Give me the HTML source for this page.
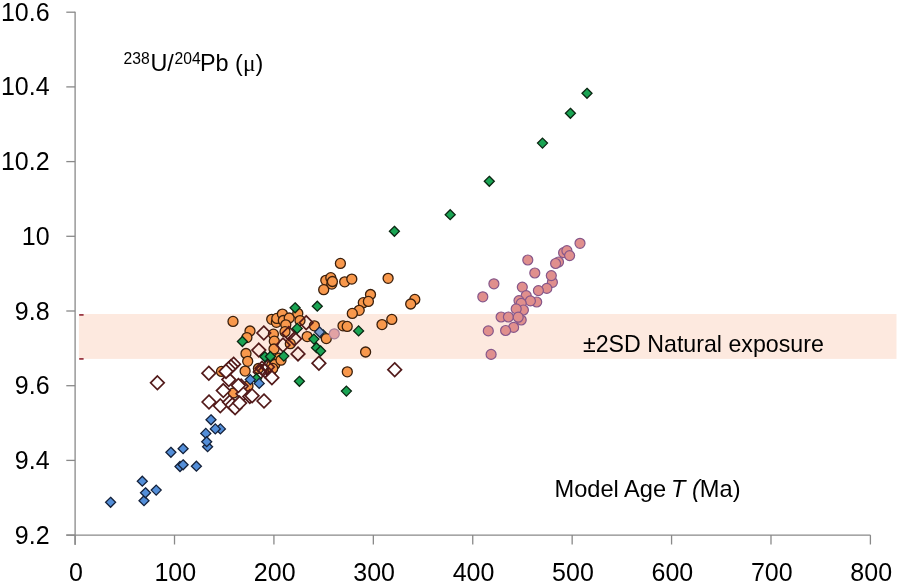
<!DOCTYPE html>
<html><head><meta charset="utf-8"><style>
html,body{margin:0;padding:0;background:#fff;}
body{width:900px;height:584px;overflow:hidden;}
svg{display:block;will-change:transform;}
.t{font-family:"Liberation Sans",sans-serif;font-size:25px;fill:#000;}
.a{font-family:"Liberation Sans",sans-serif;fill:#000;}
</style></head><body>
<svg width="900" height="584" viewBox="0 0 900 584">
<rect x="78.9" y="314" width="817.6" height="44.9" fill="#fde9df"/>
<rect x="79.2" y="314" width="4.4" height="1.8" fill="#9b3a45"/>
<rect x="79.2" y="358" width="4.4" height="1.8" fill="#9b3a45"/>
<line x1="75.1" y1="11.7" x2="75.1" y2="545" stroke="#898989" stroke-width="1.3"/>
<line x1="66.3" y1="535.1" x2="870.4" y2="535.1" stroke="#898989" stroke-width="1.3"/>
<line x1="66.3" y1="535.10" x2="75.1" y2="535.10" stroke="#898989" stroke-width="1.3"/>
<line x1="66.3" y1="460.40" x2="75.1" y2="460.40" stroke="#898989" stroke-width="1.3"/>
<line x1="66.3" y1="385.70" x2="75.1" y2="385.70" stroke="#898989" stroke-width="1.3"/>
<line x1="66.3" y1="311.00" x2="75.1" y2="311.00" stroke="#898989" stroke-width="1.3"/>
<line x1="66.3" y1="236.30" x2="75.1" y2="236.30" stroke="#898989" stroke-width="1.3"/>
<line x1="66.3" y1="161.60" x2="75.1" y2="161.60" stroke="#898989" stroke-width="1.3"/>
<line x1="66.3" y1="86.90" x2="75.1" y2="86.90" stroke="#898989" stroke-width="1.3"/>
<line x1="66.3" y1="12.20" x2="75.1" y2="12.20" stroke="#898989" stroke-width="1.3"/>
<line x1="75.10" y1="535.1" x2="75.10" y2="544.5" stroke="#898989" stroke-width="1.3"/>
<line x1="174.51" y1="535.1" x2="174.51" y2="544.5" stroke="#898989" stroke-width="1.3"/>
<line x1="273.92" y1="535.1" x2="273.92" y2="544.5" stroke="#898989" stroke-width="1.3"/>
<line x1="373.34" y1="535.1" x2="373.34" y2="544.5" stroke="#898989" stroke-width="1.3"/>
<line x1="472.75" y1="535.1" x2="472.75" y2="544.5" stroke="#898989" stroke-width="1.3"/>
<line x1="572.16" y1="535.1" x2="572.16" y2="544.5" stroke="#898989" stroke-width="1.3"/>
<line x1="671.57" y1="535.1" x2="671.57" y2="544.5" stroke="#898989" stroke-width="1.3"/>
<line x1="770.99" y1="535.1" x2="770.99" y2="544.5" stroke="#898989" stroke-width="1.3"/>
<line x1="870.40" y1="535.1" x2="870.40" y2="544.5" stroke="#898989" stroke-width="1.3"/>
<text x="49.6" y="543.60" text-anchor="end" class="t">9.2</text>
<text x="49.6" y="468.90" text-anchor="end" class="t">9.4</text>
<text x="49.6" y="394.20" text-anchor="end" class="t">9.6</text>
<text x="49.6" y="319.50" text-anchor="end" class="t">9.8</text>
<text x="49.6" y="244.80" text-anchor="end" class="t">10</text>
<text x="49.6" y="170.10" text-anchor="end" class="t">10.2</text>
<text x="49.6" y="95.40" text-anchor="end" class="t">10.4</text>
<text x="49.6" y="20.70" text-anchor="end" class="t">10.6</text>
<text x="75.90" y="580.6" text-anchor="middle" class="t">0</text>
<text x="175.31" y="580.6" text-anchor="middle" class="t">100</text>
<text x="274.72" y="580.6" text-anchor="middle" class="t">200</text>
<text x="374.14" y="580.6" text-anchor="middle" class="t">300</text>
<text x="473.55" y="580.6" text-anchor="middle" class="t">400</text>
<text x="572.96" y="580.6" text-anchor="middle" class="t">500</text>
<text x="672.37" y="580.6" text-anchor="middle" class="t">600</text>
<text x="771.79" y="580.6" text-anchor="middle" class="t">700</text>
<text x="871.20" y="580.6" text-anchor="middle" class="t">800</text>
<circle cx="340.4" cy="263.4" r="5.0" fill="#f8984c" stroke="#3a1f0c" stroke-width="1.3"/>
<circle cx="325.8" cy="280.3" r="5.0" fill="#f8984c" stroke="#3a1f0c" stroke-width="1.3"/>
<circle cx="330.8" cy="277.7" r="5.0" fill="#f8984c" stroke="#3a1f0c" stroke-width="1.3"/>
<circle cx="331.8" cy="284.1" r="5.0" fill="#f8984c" stroke="#3a1f0c" stroke-width="1.3"/>
<circle cx="332.4" cy="281.5" r="5.0" fill="#f8984c" stroke="#3a1f0c" stroke-width="1.3"/>
<circle cx="323.7" cy="289.7" r="5.0" fill="#f8984c" stroke="#3a1f0c" stroke-width="1.3"/>
<circle cx="344.7" cy="281.8" r="5.0" fill="#f8984c" stroke="#3a1f0c" stroke-width="1.3"/>
<circle cx="351.8" cy="279.1" r="5.0" fill="#f8984c" stroke="#3a1f0c" stroke-width="1.3"/>
<circle cx="388.1" cy="278.3" r="5.0" fill="#f8984c" stroke="#3a1f0c" stroke-width="1.3"/>
<circle cx="370.5" cy="294.5" r="5.0" fill="#f8984c" stroke="#3a1f0c" stroke-width="1.3"/>
<circle cx="363.3" cy="302.7" r="5.0" fill="#f8984c" stroke="#3a1f0c" stroke-width="1.3"/>
<circle cx="368.4" cy="301.4" r="5.0" fill="#f8984c" stroke="#3a1f0c" stroke-width="1.3"/>
<circle cx="359.2" cy="310.3" r="5.0" fill="#f8984c" stroke="#3a1f0c" stroke-width="1.3"/>
<circle cx="352.3" cy="313.4" r="5.0" fill="#f8984c" stroke="#3a1f0c" stroke-width="1.3"/>
<circle cx="414.8" cy="299.4" r="5.0" fill="#f8984c" stroke="#3a1f0c" stroke-width="1.3"/>
<circle cx="410.7" cy="304.0" r="5.0" fill="#f8984c" stroke="#3a1f0c" stroke-width="1.3"/>
<circle cx="382.0" cy="324.6" r="5.0" fill="#f8984c" stroke="#3a1f0c" stroke-width="1.3"/>
<circle cx="391.8" cy="319.4" r="5.0" fill="#f8984c" stroke="#3a1f0c" stroke-width="1.3"/>
<circle cx="343.0" cy="325.8" r="5.0" fill="#f8984c" stroke="#3a1f0c" stroke-width="1.3"/>
<circle cx="347.2" cy="326.4" r="5.0" fill="#f8984c" stroke="#3a1f0c" stroke-width="1.3"/>
<circle cx="365.6" cy="352.0" r="5.0" fill="#f8984c" stroke="#3a1f0c" stroke-width="1.3"/>
<circle cx="347.3" cy="371.8" r="5.0" fill="#f8984c" stroke="#3a1f0c" stroke-width="1.3"/>
<circle cx="233.0" cy="321.4" r="5.0" fill="#f8984c" stroke="#3a1f0c" stroke-width="1.3"/>
<circle cx="250.0" cy="331.0" r="5.0" fill="#f8984c" stroke="#3a1f0c" stroke-width="1.3"/>
<circle cx="246.9" cy="337.6" r="5.0" fill="#f8984c" stroke="#3a1f0c" stroke-width="1.3"/>
<circle cx="271.7" cy="319.3" r="5.0" fill="#f8984c" stroke="#3a1f0c" stroke-width="1.3"/>
<circle cx="276.4" cy="322.3" r="5.0" fill="#f8984c" stroke="#3a1f0c" stroke-width="1.3"/>
<circle cx="276.8" cy="318.4" r="5.0" fill="#f8984c" stroke="#3a1f0c" stroke-width="1.3"/>
<circle cx="282.4" cy="314.1" r="5.0" fill="#f8984c" stroke="#3a1f0c" stroke-width="1.3"/>
<circle cx="283.3" cy="320.5" r="5.0" fill="#f8984c" stroke="#3a1f0c" stroke-width="1.3"/>
<circle cx="289.2" cy="318.0" r="5.0" fill="#f8984c" stroke="#3a1f0c" stroke-width="1.3"/>
<circle cx="297.8" cy="313.3" r="5.0" fill="#f8984c" stroke="#3a1f0c" stroke-width="1.3"/>
<circle cx="300.0" cy="320.6" r="5.0" fill="#f8984c" stroke="#3a1f0c" stroke-width="1.3"/>
<circle cx="285.8" cy="324.8" r="5.0" fill="#f8984c" stroke="#3a1f0c" stroke-width="1.3"/>
<circle cx="285.0" cy="331.7" r="5.0" fill="#f8984c" stroke="#3a1f0c" stroke-width="1.3"/>
<circle cx="273.4" cy="334.2" r="5.0" fill="#f8984c" stroke="#3a1f0c" stroke-width="1.3"/>
<circle cx="274.3" cy="341.2" r="5.0" fill="#f8984c" stroke="#3a1f0c" stroke-width="1.3"/>
<circle cx="274.0" cy="349.0" r="5.0" fill="#f8984c" stroke="#3a1f0c" stroke-width="1.3"/>
<circle cx="290.3" cy="343.7" r="5.0" fill="#f8984c" stroke="#3a1f0c" stroke-width="1.3"/>
<circle cx="314.4" cy="325.8" r="5.0" fill="#f8984c" stroke="#3a1f0c" stroke-width="1.3"/>
<circle cx="307.2" cy="336.6" r="5.0" fill="#f8984c" stroke="#3a1f0c" stroke-width="1.3"/>
<circle cx="246.0" cy="353.5" r="5.0" fill="#f8984c" stroke="#3a1f0c" stroke-width="1.3"/>
<circle cx="247.7" cy="361.3" r="5.0" fill="#f8984c" stroke="#3a1f0c" stroke-width="1.3"/>
<circle cx="245.1" cy="371.1" r="5.0" fill="#f8984c" stroke="#3a1f0c" stroke-width="1.3"/>
<circle cx="258.4" cy="368.5" r="5.0" fill="#f8984c" stroke="#3a1f0c" stroke-width="1.3"/>
<circle cx="271.7" cy="365.1" r="5.0" fill="#f8984c" stroke="#3a1f0c" stroke-width="1.3"/>
<circle cx="279.1" cy="358.1" r="5.0" fill="#f8984c" stroke="#3a1f0c" stroke-width="1.3"/>
<circle cx="274.8" cy="364.5" r="5.0" fill="#f8984c" stroke="#3a1f0c" stroke-width="1.3"/>
<circle cx="270.6" cy="371.8" r="5.0" fill="#f8984c" stroke="#3a1f0c" stroke-width="1.3"/>
<circle cx="272.7" cy="368.4" r="5.0" fill="#f8984c" stroke="#3a1f0c" stroke-width="1.3"/>
<circle cx="221.5" cy="371.4" r="5.0" fill="#f8984c" stroke="#3a1f0c" stroke-width="1.3"/>
<circle cx="233.5" cy="393.0" r="5.0" fill="#f8984c" stroke="#3a1f0c" stroke-width="1.3"/>
<circle cx="248.0" cy="386.1" r="5.0" fill="#f8984c" stroke="#3a1f0c" stroke-width="1.3"/>
<circle cx="281.0" cy="360.2" r="5.0" fill="#f8984c" stroke="#3a1f0c" stroke-width="1.3"/>
<path d="M157.4 376.0L164.2 382.8L157.4 389.6L150.6 382.8Z" fill="none" stroke="#521a1a" stroke-width="1.7"/>
<path d="M208.8 366.4L215.6 373.2L208.8 380.0L202.0 373.2Z" fill="#fff" stroke="#521a1a" stroke-width="1.7"/>
<path d="M209.0 395.2L215.8 402.0L209.0 408.8L202.2 402.0Z" fill="#fff" stroke="#521a1a" stroke-width="1.7"/>
<path d="M223.3 383.8L230.1 390.6L223.3 397.4L216.5 390.6Z" fill="#fff" stroke="#521a1a" stroke-width="1.7"/>
<path d="M228.8 372.8L235.6 379.6L228.8 386.4L222.0 379.6Z" fill="#fff" stroke="#521a1a" stroke-width="1.7"/>
<path d="M220.3 399.0L227.1 405.8L220.3 412.6L213.5 405.8Z" fill="#fff" stroke="#521a1a" stroke-width="1.7"/>
<path d="M233.6 357.4L240.4 364.2L233.6 371.0L226.8 364.2Z" fill="#fff" stroke="#521a1a" stroke-width="1.7"/>
<path d="M231.0 359.8L237.8 366.6L231.0 373.4L224.2 366.6Z" fill="#fff" stroke="#521a1a" stroke-width="1.7"/>
<path d="M228.5 362.2L235.3 369.0L228.5 375.8L221.7 369.0Z" fill="#fff" stroke="#521a1a" stroke-width="1.7"/>
<path d="M226.0 364.6L232.8 371.4L226.0 378.2L219.2 371.4Z" fill="#fff" stroke="#521a1a" stroke-width="1.7"/>
<path d="M229.6 395.5L236.4 402.3L229.6 409.1L222.8 402.3Z" fill="#fff" stroke="#521a1a" stroke-width="1.7"/>
<path d="M232.3 398.2L239.1 405.0L232.3 411.8L225.5 405.0Z" fill="#fff" stroke="#521a1a" stroke-width="1.7"/>
<path d="M235.1 400.9L241.9 407.7L235.1 414.5L228.3 407.7Z" fill="#fff" stroke="#521a1a" stroke-width="1.7"/>
<path d="M241.2 379.3L248.0 386.1L241.2 392.9L234.4 386.1Z" fill="#fff" stroke="#521a1a" stroke-width="1.7"/>
<path d="M243.0 387.0L249.8 393.8L243.0 400.6L236.2 393.8Z" fill="#fff" stroke="#521a1a" stroke-width="1.7"/>
<path d="M249.8 389.6L256.6 396.4L249.8 403.2L243.0 396.4Z" fill="#fff" stroke="#521a1a" stroke-width="1.7"/>
<path d="M238.4 378.7L245.2 385.5L238.4 392.3L231.6 385.5Z" fill="#fff" stroke="#521a1a" stroke-width="1.7"/>
<path d="M239.6 396.3L246.4 403.1L239.6 409.9L232.8 403.1Z" fill="#fff" stroke="#521a1a" stroke-width="1.7"/>
<path d="M252.1 389.0L258.9 395.8L252.1 402.6L245.3 395.8Z" fill="#fff" stroke="#521a1a" stroke-width="1.7"/>
<path d="M264.0 394.2L270.8 401.0L264.0 407.8L257.2 401.0Z" fill="#fff" stroke="#521a1a" stroke-width="1.7"/>
<path d="M271.9 370.9L278.7 377.7L271.9 384.5L265.1 377.7Z" fill="#fff" stroke="#521a1a" stroke-width="1.7"/>
<path d="M262.0 361.4L268.8 368.2L262.0 375.0L255.2 368.2Z" fill="none" stroke="#521a1a" stroke-width="1.7"/>
<path d="M265.0 364.0L271.8 370.8L265.0 377.6L258.2 370.8Z" fill="none" stroke="#521a1a" stroke-width="1.7"/>
<path d="M260.2 365.2L267.0 372.0L260.2 378.8L253.4 372.0Z" fill="none" stroke="#521a1a" stroke-width="1.7"/>
<path d="M267.4 360.2L274.2 367.0L267.4 373.8L260.6 367.0Z" fill="none" stroke="#521a1a" stroke-width="1.7"/>
<path d="M258.8 343.3L265.6 350.1L258.8 356.9L252.0 350.1Z" fill="none" stroke="#521a1a" stroke-width="1.7"/>
<path d="M263.8 326.2L270.6 333.0L263.8 339.8L257.0 333.0Z" fill="none" stroke="#521a1a" stroke-width="1.7"/>
<path d="M288.8 326.6L295.6 333.4L288.8 340.2L282.0 333.4Z" fill="none" stroke="#521a1a" stroke-width="1.7"/>
<path d="M294.6 332.0L301.4 338.8L294.6 345.6L287.8 338.8Z" fill="none" stroke="#521a1a" stroke-width="1.7"/>
<path d="M306.2 315.9L313.0 322.7L306.2 329.5L299.4 322.7Z" fill="none" stroke="#521a1a" stroke-width="1.7"/>
<path d="M298.0 347.1L304.8 353.9L298.0 360.7L291.2 353.9Z" fill="none" stroke="#521a1a" stroke-width="1.7"/>
<path d="M283.0 338.2L289.8 345.0L283.0 351.8L276.2 345.0Z" fill="none" stroke="#521a1a" stroke-width="1.7"/>
<path d="M318.9 356.4L325.7 363.2L318.9 370.0L312.1 363.2Z" fill="none" stroke="#521a1a" stroke-width="1.7"/>
<path d="M394.7 362.9L401.5 369.7L394.7 376.5L387.9 369.7Z" fill="none" stroke="#521a1a" stroke-width="1.7"/>
<path d="M587.0 88.3L592.0 93.3L587.0 98.3L582.0 93.3Z" fill="#1aa453" stroke="#0b2612" stroke-width="1.3"/>
<path d="M570.4 108.3L575.4 113.3L570.4 118.3L565.4 113.3Z" fill="#1aa453" stroke="#0b2612" stroke-width="1.3"/>
<path d="M542.5 138.1L547.5 143.1L542.5 148.1L537.5 143.1Z" fill="#1aa453" stroke="#0b2612" stroke-width="1.3"/>
<path d="M489.3 176.3L494.3 181.3L489.3 186.3L484.3 181.3Z" fill="#1aa453" stroke="#0b2612" stroke-width="1.3"/>
<path d="M450.2 209.7L455.2 214.7L450.2 219.7L445.2 214.7Z" fill="#1aa453" stroke="#0b2612" stroke-width="1.3"/>
<path d="M394.4 226.3L399.4 231.3L394.4 236.3L389.4 231.3Z" fill="#1aa453" stroke="#0b2612" stroke-width="1.3"/>
<path d="M295.1 302.8L300.1 307.8L295.1 312.8L290.1 307.8Z" fill="#1aa453" stroke="#0b2612" stroke-width="1.3"/>
<path d="M317.3 301.2L322.3 306.2L317.3 311.2L312.3 306.2Z" fill="#1aa453" stroke="#0b2612" stroke-width="1.3"/>
<path d="M242.4 336.5L247.4 341.5L242.4 346.5L237.4 341.5Z" fill="#1aa453" stroke="#0b2612" stroke-width="1.3"/>
<path d="M297.2 323.4L302.2 328.4L297.2 333.4L292.2 328.4Z" fill="#1aa453" stroke="#0b2612" stroke-width="1.3"/>
<path d="M323.2 330.0L328.2 335.0L323.2 340.0L318.2 335.0Z" fill="#1aa453" stroke="#0b2612" stroke-width="1.3"/>
<path d="M313.9 334.1L318.9 339.1L313.9 344.1L308.9 339.1Z" fill="#1aa453" stroke="#0b2612" stroke-width="1.3"/>
<path d="M316.5 342.7L321.5 347.7L316.5 352.7L311.5 347.7Z" fill="#1aa453" stroke="#0b2612" stroke-width="1.3"/>
<path d="M320.6 346.0L325.6 351.0L320.6 356.0L315.6 351.0Z" fill="#1aa453" stroke="#0b2612" stroke-width="1.3"/>
<path d="M283.8 351.1L288.8 356.1L283.8 361.1L278.8 356.1Z" fill="#1aa453" stroke="#0b2612" stroke-width="1.3"/>
<path d="M264.9 351.8L269.9 356.8L264.9 361.8L259.9 356.8Z" fill="#1aa453" stroke="#0b2612" stroke-width="1.3"/>
<path d="M270.4 351.5L275.4 356.5L270.4 361.5L265.4 356.5Z" fill="#1aa453" stroke="#0b2612" stroke-width="1.3"/>
<path d="M256.5 373.7L261.5 378.7L256.5 383.7L251.5 378.7Z" fill="#1aa453" stroke="#0b2612" stroke-width="1.3"/>
<path d="M299.4 376.3L304.4 381.3L299.4 386.3L294.4 381.3Z" fill="#1aa453" stroke="#0b2612" stroke-width="1.3"/>
<path d="M346.4 386.1L351.4 391.1L346.4 396.1L341.4 391.1Z" fill="#1aa453" stroke="#0b2612" stroke-width="1.3"/>
<path d="M358.6 325.9L363.6 330.9L358.6 335.9L353.6 330.9Z" fill="#1aa453" stroke="#0b2612" stroke-width="1.3"/>
<circle cx="326.3" cy="338.6" r="5.0" fill="#f8984c" stroke="#3a1f0c" stroke-width="1.3"/>
<path d="M110.6 497.3L115.6 502.3L110.6 507.3L105.6 502.3Z" fill="#538ed8" stroke="#14213a" stroke-width="1.3"/>
<path d="M142.3 476.2L147.3 481.2L142.3 486.2L137.3 481.2Z" fill="#538ed8" stroke="#14213a" stroke-width="1.3"/>
<path d="M144.0 495.7L149.0 500.7L144.0 505.7L139.0 500.7Z" fill="#538ed8" stroke="#14213a" stroke-width="1.3"/>
<path d="M145.5 487.8L150.5 492.8L145.5 497.8L140.5 492.8Z" fill="#538ed8" stroke="#14213a" stroke-width="1.3"/>
<path d="M156.2 485.1L161.2 490.1L156.2 495.1L151.2 490.1Z" fill="#538ed8" stroke="#14213a" stroke-width="1.3"/>
<path d="M170.9 447.3L175.9 452.3L170.9 457.3L165.9 452.3Z" fill="#538ed8" stroke="#14213a" stroke-width="1.3"/>
<path d="M183.1 443.7L188.1 448.7L183.1 453.7L178.1 448.7Z" fill="#538ed8" stroke="#14213a" stroke-width="1.3"/>
<path d="M180.0 461.5L185.0 466.5L180.0 471.5L175.0 466.5Z" fill="#538ed8" stroke="#14213a" stroke-width="1.3"/>
<path d="M183.1 459.8L188.1 464.8L183.1 469.8L178.1 464.8Z" fill="#538ed8" stroke="#14213a" stroke-width="1.3"/>
<path d="M196.4 461.2L201.4 466.2L196.4 471.2L191.4 466.2Z" fill="#538ed8" stroke="#14213a" stroke-width="1.3"/>
<path d="M211.0 414.8L216.0 419.8L211.0 424.8L206.0 419.8Z" fill="#538ed8" stroke="#14213a" stroke-width="1.3"/>
<path d="M220.4 423.9L225.4 428.9L220.4 433.9L215.4 428.9Z" fill="#538ed8" stroke="#14213a" stroke-width="1.3"/>
<path d="M215.3 423.9L220.3 428.9L215.3 433.9L210.3 428.9Z" fill="#538ed8" stroke="#14213a" stroke-width="1.3"/>
<path d="M205.8 428.4L210.8 433.4L205.8 438.4L200.8 433.4Z" fill="#538ed8" stroke="#14213a" stroke-width="1.3"/>
<path d="M207.6 441.7L212.6 446.7L207.6 451.7L202.6 446.7Z" fill="#538ed8" stroke="#14213a" stroke-width="1.3"/>
<path d="M206.7 436.7L211.7 441.7L206.7 446.7L201.7 441.7Z" fill="#538ed8" stroke="#14213a" stroke-width="1.3"/>
<path d="M250.3 374.6L255.3 379.6L250.3 384.6L245.3 379.6Z" fill="#538ed8" stroke="#14213a" stroke-width="1.3"/>
<path d="M259.2 378.4L264.2 383.4L259.2 388.4L254.2 383.4Z" fill="#538ed8" stroke="#14213a" stroke-width="1.3"/>
<path d="M319.6 327.0L324.6 332.0L319.6 337.0L314.6 332.0Z" fill="#7d9fd2" stroke="#1c2a48" stroke-width="1.3"/>
<circle cx="334.3" cy="333.8" r="5.0" fill="#e2a2a4" stroke="#a98099" stroke-width="1.2"/>
<circle cx="580.0" cy="243.3" r="5.0" fill="#e08f8d" stroke="#86578a" stroke-width="1.2"/>
<circle cx="563.6" cy="252.7" r="5.0" fill="#e08f8d" stroke="#86578a" stroke-width="1.2"/>
<circle cx="566.9" cy="250.7" r="5.0" fill="#e08f8d" stroke="#86578a" stroke-width="1.2"/>
<circle cx="569.6" cy="255.6" r="5.0" fill="#e08f8d" stroke="#86578a" stroke-width="1.2"/>
<circle cx="558.5" cy="262.0" r="5.0" fill="#e08f8d" stroke="#86578a" stroke-width="1.2"/>
<circle cx="555.6" cy="263.5" r="5.0" fill="#e08f8d" stroke="#86578a" stroke-width="1.2"/>
<circle cx="527.8" cy="260.0" r="5.0" fill="#e08f8d" stroke="#86578a" stroke-width="1.2"/>
<circle cx="534.8" cy="273.0" r="5.0" fill="#e08f8d" stroke="#86578a" stroke-width="1.2"/>
<circle cx="493.9" cy="283.8" r="5.0" fill="#e08f8d" stroke="#86578a" stroke-width="1.2"/>
<circle cx="482.8" cy="296.8" r="5.0" fill="#e08f8d" stroke="#86578a" stroke-width="1.2"/>
<circle cx="522.3" cy="287.1" r="5.0" fill="#e08f8d" stroke="#86578a" stroke-width="1.2"/>
<circle cx="552.4" cy="282.3" r="5.0" fill="#e08f8d" stroke="#86578a" stroke-width="1.2"/>
<circle cx="551.3" cy="275.6" r="5.0" fill="#e08f8d" stroke="#86578a" stroke-width="1.2"/>
<circle cx="546.8" cy="288.4" r="5.0" fill="#e08f8d" stroke="#86578a" stroke-width="1.2"/>
<circle cx="538.4" cy="290.6" r="5.0" fill="#e08f8d" stroke="#86578a" stroke-width="1.2"/>
<circle cx="536.7" cy="302.0" r="5.0" fill="#e08f8d" stroke="#86578a" stroke-width="1.2"/>
<circle cx="526.2" cy="295.6" r="5.0" fill="#e08f8d" stroke="#86578a" stroke-width="1.2"/>
<circle cx="530.4" cy="300.9" r="5.0" fill="#e08f8d" stroke="#86578a" stroke-width="1.2"/>
<circle cx="519.0" cy="300.6" r="5.0" fill="#e08f8d" stroke="#86578a" stroke-width="1.2"/>
<circle cx="521.2" cy="303.4" r="5.0" fill="#e08f8d" stroke="#86578a" stroke-width="1.2"/>
<circle cx="523.4" cy="310.0" r="5.0" fill="#e08f8d" stroke="#86578a" stroke-width="1.2"/>
<circle cx="516.2" cy="308.9" r="5.0" fill="#e08f8d" stroke="#86578a" stroke-width="1.2"/>
<circle cx="521.2" cy="320.0" r="5.0" fill="#e08f8d" stroke="#86578a" stroke-width="1.2"/>
<circle cx="501.1" cy="317.0" r="5.0" fill="#e08f8d" stroke="#86578a" stroke-width="1.2"/>
<circle cx="508.4" cy="317.0" r="5.0" fill="#e08f8d" stroke="#86578a" stroke-width="1.2"/>
<circle cx="518.2" cy="317.2" r="5.0" fill="#e08f8d" stroke="#86578a" stroke-width="1.2"/>
<circle cx="513.6" cy="327.4" r="5.0" fill="#e08f8d" stroke="#86578a" stroke-width="1.2"/>
<circle cx="505.6" cy="330.5" r="5.0" fill="#e08f8d" stroke="#86578a" stroke-width="1.2"/>
<circle cx="488.3" cy="330.9" r="5.0" fill="#e08f8d" stroke="#86578a" stroke-width="1.2"/>
<circle cx="491.1" cy="354.4" r="5.0" fill="#e08f8d" stroke="#86578a" stroke-width="1.2"/>
<text x="123.5" y="63.8" class="a" font-size="15.7">238</text>
<text x="150.4" y="70.8" class="a" font-size="23.4">U/</text>
<text x="174.6" y="63.8" class="a" font-size="15.7">204</text>
<text x="200" y="70.8" class="a" font-size="23.4">Pb (<tspan font-family="Liberation Serif">&#956;</tspan>)</text>
<text x="583" y="352" class="a" font-size="23.2">&#177;2SD Natural exposure</text>
<text x="554.6" y="496.8" class="a" font-size="23.6">Model Age</text>
<text x="671" y="496.8" class="a" font-size="23.6" font-style="italic">T</text>
<text x="692" y="496.8" class="a" font-size="23.6"><tspan font-style="italic">(</tspan>Ma)</text>
</svg>
</body></html>
